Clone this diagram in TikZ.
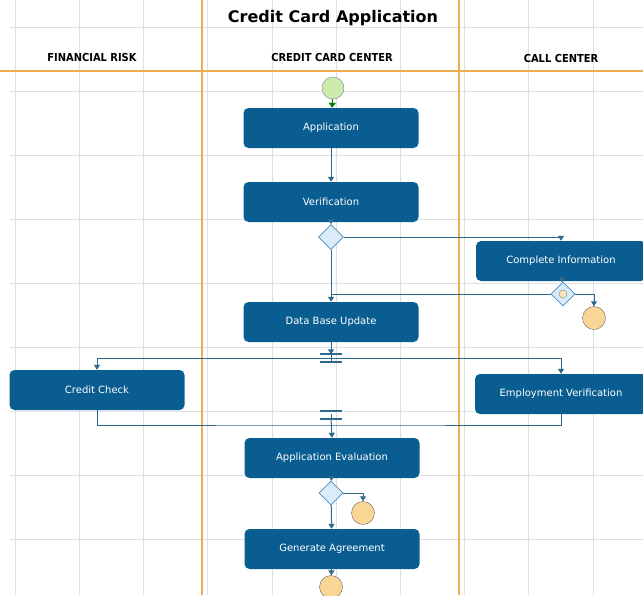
\documentclass[tikz,border=0pt]{standalone}
\usepackage{fontspec}
\setmainfont{DejaVu Sans}
\newfontfamily\condfont{DejaVu Sans Condensed}
\usetikzlibrary{arrows.meta, shapes.geometric, positioning}

\definecolor{taskblue}{RGB}{10,93,145}
\definecolor{flowblue}{RGB}{45,105,140}
\definecolor{gatefill}{RGB}{218,236,250}
\definecolor{gatedraw}{RGB}{75,140,190}
\definecolor{endfill}{RGB}{250,214,150}
\definecolor{startfill}{RGB}{205,235,170}
\definecolor{gridgray}{RGB}{218,225,230}
\definecolor{laneorange}{RGB}{236,172,82}

\begin{document}
\begin{tikzpicture}[x=1pt, y=-1pt,
    >={Triangle[length=5pt, width=6pt]},
    % rounded activity boxes
    task/.style={
        rectangle, rounded corners=5pt, fill=taskblue, text=white,
        minimum width=175pt, minimum height=40pt, inner sep=0pt,
        font=\fontsize{10}{12}\selectfont
    },
    gate/.style={diamond, draw=gatedraw, fill=gatefill, thick,
        minimum size=25pt, inner sep=0pt},
    startev/.style={circle, draw=gray, fill=startfill, minimum size=22pt, inner sep=0pt},
    endev/.style={circle, draw=gray!80!black, fill=endfill, minimum size=23pt, inner sep=0pt},
    barnode/.style={rectangle, minimum width=22pt, minimum height=7pt, inner sep=0pt},
    barline/.style={line width=1.8pt, flowblue},
    flow/.style={->, line width=1pt, draw=flowblue},
    lane/.style={line width=1.4pt, laneorange},
    gridline/.style={line width=0.6pt, gridgray},
    header/.style={font=\condfont\bfseries\fontsize{11}{12}\selectfont}
]

\useasboundingbox (0,0) rectangle (643,595);

% 1. Background grid and swimlane borders
\foreach \gx in {0,...,9} {
    \draw[gridline] (15+64.2*\gx, 0) -- (15+64.2*\gx, 595);
}
\foreach \gy in {0,...,8} {
    \draw[gridline] (10, 27+64*\gy) -- (643, 27+64*\gy);
}
\draw[lane] (202,0) -- (202,595);
\draw[lane] (459,0) -- (459,595);
\draw[lane] (0,71) -- (643,71);

% 2. Title and lane headers
\node[font=\bfseries\fontsize{16}{18}\selectfont] (title) at (333,18) {Credit Card Application};
\node[header] (riskhead) at (92,57) {FINANCIAL RISK};
\node[header] (centerhead) at (332,57) {CREDIT CARD CENTER};
\node[header] (callhead) at (561,58) {CALL CENTER};

% 3. Events, activities and gateways
\node[startev] (start) at (333,88) {};
\node[task] (app) at (331,128) {Application};
\node[task] (verif) at (331,202) {Verification};
\node[gate] (dec1) at (331,237) {};
\node[task, minimum width=170pt] (complete) at (561,261) {Complete Information};
\node[gate, minimum size=24pt] (dec2) at (563,294) {};
\node[endev] (end1) at (594,318) {};
\node[task] (dbu) at (331,322) {Data Base Update};
\node[barnode] (fork) at (331,358) {};
\node[task] (credit) at (97,390) {Credit Check};
\node[task, minimum width=172pt] (employ) at (561,394) {Employment Verification};
\node[barnode] (join) at (331,415) {};
\coordinate (merge) at (331,425);
\node[task] (appeval) at (332,458) {Application Evaluation};
\node[gate, minimum size=24pt] (dec3) at (331,493) {};
\node[endev] (end2) at (363,513) {};
\node[task] (agree) at (332,549) {Generate Agreement};
\node[endev] (end3) at (331,587) {};

% small marker inside the second gateway
\draw[gray, fill=endfill!60] (dec2.center) circle (4pt);

% 4. Bars of fork and join
\draw[barline] (fork.north west) -- (fork.north east) (fork.south west) -- (fork.south east);
\draw[barline] (join.north west) -- (join.north east) (join.south west) -- (join.south east);

% 5. Sequence flows
\draw[flow, draw=green!50!black, -{Triangle[length=5pt, width=7pt]}, green!50!black] (start) -- (app);
\draw[flow] (app) -- (verif);
\draw[flow] (verif) -- (dec1);
\draw[flow] (dec1.east) -| (complete.north);
\draw[flow] (dec1) -- (dbu);
\draw[flow] (complete) -- (dec2);
\draw[line width=1pt, flowblue] (dec2.west) -- (dec2.west -| dbu.north);
\draw[flow] (dec2.east) -| (end1.north);
\draw[flow] (dbu) -- (fork.north);
\draw[line width=1pt, flowblue] (fork.north) -- (fork.south);
\draw[flow] (fork.center) -| (credit.north);
\draw[flow] (fork.center) -| (employ.north);
\draw[line width=1pt, flowblue] (credit.south) |- (merge) -| (employ.south);
\draw[line width=1pt, flowblue] ([yshift=-3pt]join.north) -- (join.south);
\draw[flow] (join.south) -- (appeval.north);
\draw[flow] (appeval) -- (dec3);
\draw[flow] (dec3.east) -| (end2.north);
\draw[flow] (dec3) -- (agree);
\draw[flow] (agree) -- (end3);

\end{tikzpicture}
\end{document}
